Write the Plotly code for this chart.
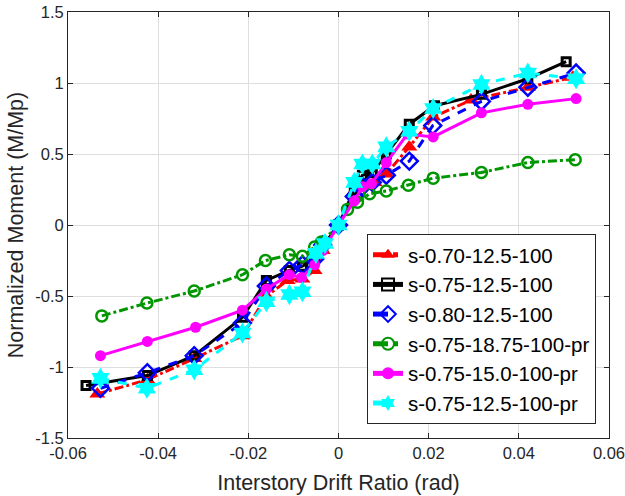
import plotly.graph_objects as go

names = ["s-0.70-12.5-100", "s-0.75-12.5-100", "s-0.80-12.5-100",
         "s-0.75-18.75-100-pr", "s-0.75-15.0-100-pr", "s-0.75-12.5-100-pr"]

red_x = [-0.0535, -0.0424, -0.032, -0.0213, -0.016, -0.0113, -0.008, -0.0053, -0.0035, 0, 0.0035, 0.0053, 0.008, 0.0106, 0.0157, 0.021, 0.0294, 0.042, 0.052]
red_y = [-1.19, -1.09, -0.94, -0.78, -0.50, -0.39, -0.38, -0.32, -0.18, 0, 0.24, 0.29, 0.30, 0.36, 0.55, 0.76, 0.88, 0.97, 1.04]

black_x = [-0.056, -0.0424, -0.032, -0.0213, -0.016, -0.0109, -0.008, -0.0053, -0.0035, 0, 0.0035, 0.0053, 0.0075, 0.0106, 0.0157, 0.0213, 0.0317, 0.042, 0.0505]
black_y = [-1.13, -1.06, -0.92, -0.65, -0.39, -0.32, -0.29, -0.24, -0.15, 0, 0.25, 0.35, 0.37, 0.50, 0.71, 0.84, 0.92, 1.03, 1.15]

blue_x = [-0.0528, -0.0424, -0.032, -0.0213, -0.016, -0.0109, -0.008, -0.0053, -0.0035, 0, 0.0035, 0.0053, 0.0075, 0.0106, 0.0157, 0.0209, 0.0317, 0.042, 0.0527]
blue_y = [-1.15, -1.04, -0.92, -0.69, -0.43, -0.32, -0.28, -0.24, -0.14, 0, 0.20, 0.27, 0.30, 0.35, 0.45, 0.70, 0.87, 0.97, 1.07]

green_x = [-0.0525, -0.0425, -0.032, -0.0213, -0.0162, -0.0109, -0.008, -0.0053, -0.0038, 0, 0.002, 0.0042, 0.0069, 0.0106, 0.0155, 0.021, 0.0317, 0.042, 0.0525]
green_y = [-0.64, -0.55, -0.465, -0.35, -0.25, -0.21, -0.22, -0.155, -0.12, 0, 0.11, 0.16, 0.22, 0.24, 0.28, 0.33, 0.37, 0.44, 0.46]

magenta_x = [-0.0528, -0.0424, -0.0317, -0.0213, -0.016, -0.0109, -0.0082, -0.0053, -0.0035, 0, 0.0035, 0.0053, 0.0073, 0.0106, 0.0153, 0.021, 0.0317, 0.042, 0.0527]
magenta_y = [-0.92, -0.82, -0.72, -0.60, -0.45, -0.35, -0.37, -0.28, -0.18, 0, 0.17, 0.27, 0.29, 0.44, 0.64, 0.62, 0.79, 0.85, 0.89]

cyan_x = [-0.0528, -0.0425, -0.032, -0.0213, -0.016, -0.0109, -0.008, -0.005, -0.003, 0, 0.0035, 0.0053, 0.0075, 0.0106, 0.0157, 0.021, 0.0317, 0.042, 0.0527]
cyan_y = [-1.08, -1.15, -1.02, -0.76, -0.54, -0.49, -0.47, -0.20, -0.13, 0, 0.30, 0.43, 0.43, 0.55, 0.66, 0.82, 0.99, 1.07, 1.03]

x_ticks = [-0.06, -0.04, -0.02, 0, 0.02, 0.04, 0.06]
x_tick_labels = ["-0.06", "-0.04", "-0.02", "0", "0.02", "0.04", "0.06"]
y_ticks = [-1.5, -1, -0.5, 0, 0.5, 1, 1.5]
y_tick_labels = ["-1.5", "-1", "-0.5", "0", "0.5", "1", "1.5"]

series = [
    (red_x, red_y, "#ff0000", "dashdot", "triangle-up", 14, 0),
    (black_x, black_y, "#000000", "solid", "square-open", 8, 3),
    (blue_x, blue_y, "#0000ff", "dash", "diamond-open", 13, 2.5),
    (green_x, green_y, "#009600", "dashdot", "circle-open", 11, 2.5),
    (magenta_x, magenta_y, "#ff00ff", "solid", "circle", 11, 0),
    (cyan_x, cyan_y, "#00ffff", "dash", "hexagram", 16, 0),
]

FONT = "Liberation Sans, Arial, sans-serif"

fig = go.Figure()
for (xs, ys, col, dash, sym, size, mlw), name in zip(series, names):
    fig.add_trace(go.Scatter(
        x=xs, y=ys, name=name, mode="lines+markers",
        line=dict(color=col, width=3, dash=dash),
        marker=dict(symbol=sym, size=size, color=col,
                    line=dict(color=col, width=mlw)),
    ))

axis_common = dict(
    showline=True, linecolor="#262626", linewidth=1, mirror="ticks",
    ticks="inside", ticklen=5, tickcolor="#262626",
    showgrid=True, gridcolor="#dedede", gridwidth=1,
    zeroline=False, automargin=False, ticklabeloverflow="allow",
    tickfont=dict(family=FONT, size=16.5, color="#262626"),
    title_font=dict(family=FONT, size=21.5, color="#262626"),
)

fig.update_layout(
    width=625, height=496,
    margin=dict(l=68, r=16, t=12, b=58),
    plot_bgcolor="white", paper_bgcolor="white",
    font=dict(family=FONT, color="#262626"),
    xaxis=dict(range=[-0.06, 0.06], tickvals=x_ticks, ticktext=x_tick_labels,
               title=dict(text="Interstory Drift Ratio (rad)", standoff=14), **axis_common),
    yaxis=dict(range=[-1.5, 1.5], tickvals=y_ticks, ticktext=y_tick_labels,
               title=dict(text="Normalized Moment (M/Mp)", standoff=5), **axis_common),
    legend=dict(x=0.976, y=0.033, xanchor="right", yanchor="bottom",
                bgcolor="white", bordercolor="#262626", borderwidth=1,
                font=dict(family=FONT, size=20.5, color="#000000"),
                tracegroupgap=0, itemsizing="constant"),
    showlegend=True,
)

fig.write_html("out.html", config={"displayModeBar": False},
               post_script="document.body.style.margin='0px';")
